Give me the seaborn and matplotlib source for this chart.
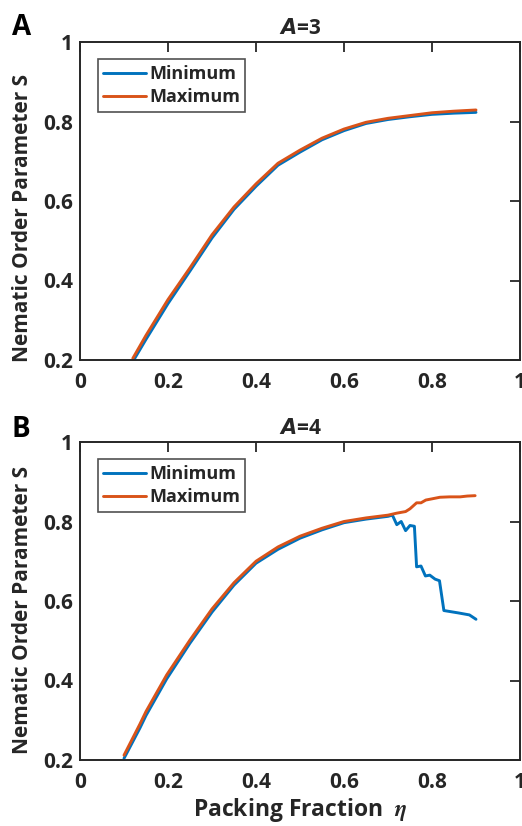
import numpy as np
import pandas as pd
import matplotlib
matplotlib.use("Agg")
import matplotlib.pyplot as plt
import seaborn as sns

# ---- data ----
eta_a = [0.12, 0.15, 0.20, 0.25, 0.30, 0.35, 0.40, 0.45, 0.50, 0.55, 0.60, 0.65, 0.70, 0.75, 0.80, 0.85, 0.90]
min_a = [0.196, 0.252, 0.342, 0.424, 0.507, 0.579, 0.637, 0.690, 0.723, 0.754, 0.777, 0.795, 0.805, 0.812, 0.818, 0.821, 0.823]
max_a = [0.204, 0.262, 0.352, 0.432, 0.515, 0.585, 0.643, 0.695, 0.728, 0.758, 0.781, 0.798, 0.808, 0.815, 0.822, 0.826, 0.829]

eta_b = [0.10, 0.136, 0.15, 0.197, 0.25, 0.30, 0.35, 0.40, 0.45, 0.50, 0.55, 0.60, 0.65, 0.70, 0.71,
         0.72, 0.73, 0.74, 0.75, 0.76, 0.765, 0.775, 0.785, 0.795, 0.807, 0.817, 0.827, 0.86, 0.885, 0.90]
min_b = [0.204, 0.280, 0.312, 0.404, 0.494, 0.572, 0.640, 0.695, 0.730, 0.758, 0.779, 0.797, 0.806, 0.813, 0.816,
         0.792, 0.800, 0.777, 0.790, 0.788, 0.686, 0.688, 0.663, 0.665, 0.655, 0.651, 0.576, 0.570, 0.565, 0.554]
eta_b_max = [0.10, 0.136, 0.15, 0.197, 0.25, 0.30, 0.35, 0.40, 0.45, 0.50, 0.55, 0.60, 0.65, 0.70, 0.72,
             0.74, 0.75, 0.765, 0.775, 0.786, 0.80, 0.818, 0.84, 0.864, 0.88, 0.898]
max_b = [0.212, 0.290, 0.322, 0.414, 0.502, 0.580, 0.646, 0.700, 0.736, 0.763, 0.783, 0.800, 0.809, 0.816, 0.821,
         0.825, 0.832, 0.847, 0.847, 0.854, 0.857, 0.861, 0.862, 0.862, 0.864, 0.865]

xticks = [0, 0.2, 0.4, 0.6, 0.8, 1]
xticklabels = ["0", "0.2", "0.4", "0.6", "0.8", "1"]
yticks = [0.2, 0.4, 0.6, 0.8, 1]
yticklabels = ["0.2", "0.4", "0.6", "0.8", "1"]

series_names = ["Minimum", "Maximum"]
colors = ["#0072BD", "#D95319"]

sns.set_style("white")
FONT = ["Open Sans", "DejaVu Sans"]
plt.rcParams["font.family"] = FONT
plt.rcParams["font.weight"] = "bold"
plt.rcParams["axes.edgecolor"] = "#262626"

W, H = 522, 826
fig = plt.figure(figsize=(W / 100, H / 100), dpi=100)

def make_df(x_min, y_min, x_max, y_max):
    d1 = pd.DataFrame({"eta": x_min, "S": y_min, "series": series_names[0]})
    d2 = pd.DataFrame({"eta": x_max, "S": y_max, "series": series_names[1]})
    return pd.concat([d1, d2], ignore_index=True)

panels = [
    (make_df(eta_a, min_a, eta_a, max_a), 42, "3", "A", 35, 0.447),
    (make_df(eta_b, min_b, eta_b_max, max_b), 442, "4", "B", 437, 0.472),
]

for i, (df, top_px, aval, letter, letter_base, ylab_y) in enumerate(panels):
    ax = fig.add_axes([80 / W, 1 - (top_px + 318) / H, 440 / W, 318 / H])
    sns.lineplot(data=df, x="eta", y="S", hue="series", palette=colors,
                 linewidth=2.1, ax=ax, estimator=None, sort=False)
    ax.set_xlim(0, 1)
    ax.set_ylim(0.2, 1)
    ax.set_xticks(xticks)
    ax.set_yticks(yticks)
    ax.set_yticklabels(yticklabels, fontsize=15, fontweight="bold")
    ax.set_xticklabels(xticklabels, fontsize=15, fontweight="bold")
    if i == 1:
        ax.set_xlabel(r"Packing Fraction  $\eta$", fontsize=16.5, fontweight="bold",
                      math_fontfamily="stix", labelpad=2, color="#262626")
    else:
        ax.set_xlabel("")
    ax.tick_params(direction="in", length=7, width=1.3, top=True, right=True,
                   color="#262626", labelcolor="#262626")
    ax.tick_params(axis="x", pad=9)
    ax.tick_params(axis="y", pad=5)
    for s in ax.spines.values():
        s.set_linewidth(1.4)
        s.set_color("#262626")
        s.set_visible(True)
    ax.set_ylabel("Nematic Order Parameter S", fontsize=15, fontweight="bold", color="#262626")
    ax.yaxis.set_label_coords(-0.107, ylab_y)
    ax.set_title(r"$\mathbfit{A}$=" + aval, fontsize=15, fontweight="bold",
                 math_fontfamily="dejavusans", pad=6)
    leg = ax.legend(loc="upper left", bbox_to_anchor=(0.04, 0.945), fontsize=13,
                    frameon=True, fancybox=False, handlelength=2.4, handletextpad=0.15,
                    borderpad=0.3, labelspacing=0.3, borderaxespad=0)
    leg.get_frame().set_edgecolor("#262626")
    leg.get_frame().set_linewidth(1.2)
    for t in leg.get_texts():
        t.set_fontweight("bold")
    for l in leg.get_lines():
        l.set_linewidth(2.1)
    fig.text(12 / W, 1 - letter_base / H, letter, fontsize=20, fontweight="bold",
             va="baseline", ha="left", color="black")

fig.savefig("out.png", dpi=100)
